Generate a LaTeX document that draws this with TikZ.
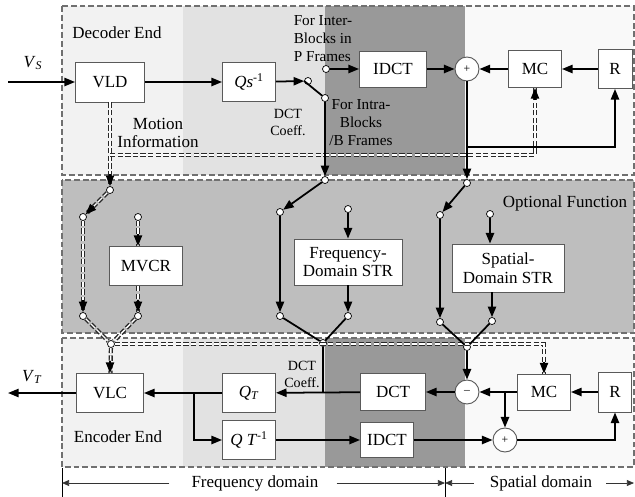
\documentclass[tikz,border=0pt]{standalone}
\usepackage{fontspec}
\setmainfont{Liberation Serif}
\usetikzlibrary{arrows.meta,calc}
\definecolor{bgpale}{RGB}{242,242,242}
\definecolor{bglight}{RGB}{226,226,226}
\definecolor{bgdark}{RGB}{153,153,153}
\definecolor{bgwhite}{RGB}{249,249,249}
\definecolor{bgmid}{RGB}{190,190,190}
\definecolor{rimgray}{RGB}{112,112,112}
\definecolor{boxgray}{RGB}{90,90,90}
\definecolor{mvgray}{RGB}{40,40,40}
\newcommand{\regionrow}[2]{%
  \fill[bgpale] (62,#1) rectangle (183,#2);
  \fill[bglight] (183,#1) rectangle (325,#2);
  \fill[bgdark] (325,#1) rectangle (465,#2);
  \fill[bgwhite] (465,#1) rectangle (634,#2);
  \draw[rim] (62,#1) rectangle (634,#2);
}

\begin{document}
\begin{tikzpicture}[x=.03cm,y=-.03cm,font=\fontsize{14.5}{16}\selectfont,
    rim/.style={draw=rimgray,line width=.9pt,dash pattern=on 5pt off 2.5pt},
    blk/.style 2 args={draw=boxgray,fill=white,line width=.8pt,minimum width=#1*.03cm,
      minimum height=#2*.03cm,inner sep=1pt,align=center},
    ctc/.style={circle,draw,fill=white,line width=.6pt,minimum size=7*.03cm,inner sep=0pt},
    sumc/.style={circle,draw=boxgray,fill=white,line width=.8pt,minimum size=24*.03cm,
      inner sep=0pt,font=\normalsize},
    wire/.style={line width=1.5pt},
    arr/.style={wire,-{Triangle[length=9pt,width=7pt]}},
    mv/.style={draw=mvgray,line width=3.6pt,dash pattern=on 4.5pt off 2pt,
      postaction={draw=white,line width=1.2pt}},
    mvtip/.style={line width=1pt,-{Triangle[length=9pt,width=7pt]}},
    dom/.style={line width=.6pt,black!80,-{Triangle[length=6pt,width=5pt]}},
    note/.style={font=\fontsize{13}{15.3}\selectfont,align=left},
    coef/.style={font=\fontsize{12}{14.5}\selectfont,align=center}]
  \useasboundingbox (0,0) rectangle (635,497);
  \regionrow{6}{175}
  \fill[bgmid] (62,180) rectangle (634,333);
  \draw[rim] (62,180) rectangle (634,333);
  \regionrow{338}{467}

  \node[blk={69}{40}] (vld) at (110,82) {VLD};
  \node[blk={53}{39}] (qs) at (249,82) {\textit{Qs}\textsuperscript{-1}};
  \node[ctc] (swo) at (308,81) {};
  \node[ctc] (swp) at (326,69) {};
  \node[ctc] (swi) at (325,98) {};
  \node[blk={67}{36}] (idcta) at (393,69) {IDCT};
  \node[sumc] (suma) at (467,69) {+};
  \node[blk={53}{37}] (mca) at (535,69) {MC};
  \node[blk={34}{39}] (ra) at (615,69) {R};

  \node[ctc] (m0) at (110,190) {};
  \node[ctc] (m1) at (83,217) {};
  \node[ctc] (m2) at (138,217) {};
  \node[blk={73}{39}] (mvcr) at (146,266) {MVCR};
  \node[ctc] (m3) at (83,316) {};
  \node[ctc] (m4) at (138,316) {};
  \node[ctc] (m5) at (111,344) {};

  \node[ctc] (f0) at (325,180) {};
  \node[ctc] (f1) at (280,212) {};
  \node[ctc] (f2) at (348,209) {};
  \node[blk={108}{46}] (fstr) at (348,262) {Frequency-\\Domain STR};
  \node[ctc] (f3) at (280,316) {};
  \node[ctc] (f4) at (348,316) {};
  \node[ctc] (f5) at (323,343) {};

  \node[ctc] (s0) at (467,183) {};
  \node[ctc] (s1) at (440,215) {};
  \node[ctc] (s2) at (490,214) {};
  \node[blk={112}{48}] (sstr) at (508,268) {Spatial-\\Domain STR};
  \node[ctc] (s3) at (440,322) {};
  \node[ctc] (s4) at (492,321) {};
  \node[ctc] (s5) at (467,347) {};

  \node[blk={67}{39}] (vlc) at (110,393) {VLC};
  \node[blk={53}{39}] (qt) at (249,393) {\textit{Q}\textsubscript{\textit{T}}};
  \node[blk={53}{39}] (qti) at (249,440) {\textit{Q T}\textsuperscript{-1}};
  \node[blk={65}{37}] (dctb) at (393,392) {DCT};
  \node[blk={53}{35}] (idctb) at (387,440) {IDCT};
  \node[sumc] (minus) at (467,392) {--};
  \node[sumc] (plusb) at (505,440) {+};
  \node[blk={53}{36}] (mcb) at (544,392) {MC};
  \node[blk={33}{40}] (rb) at (615,392) {R};

  \node (lvs) at (33,63) {\textit{V}\textsubscript{\textit{S}}};
  \node (ldec) at (117,33) {Decoder End};
  \node[align=center] (lmot) at (158,133) {Motion\\Information};
  \node[note] (linter) at (323,39) {For Inter-\\Blocks in\\P Frames};
  \node[note,align=center] (lintra) at (361,123) {For Intra-\\Blocks\\/B Frames};
  \node[coef] (lcoa) at (288,122) {DCT\\Coeff.};
  \node (lopt) at (565,203) {Optional Function};
  \node[coef] (lcob) at (302,374) {DCT\\Coeff.};
  \node (lvt) at (32,377) {\textit{V}\textsubscript{\textit{T}}};
  \node (lenc) at (118,437) {Encoder End};
  \node (lfd) at (255,483) {Frequency domain};
  \node (lsd) at (541,483) {Spatial domain};

  \coordinate (mvj) at (110,155);
  \coordinate (mvk) at (mvj -| mca);
  \coordinate (m2t) at (m2 |- mvcr.north);
  \coordinate (m4t) at (m4 |- mvcr.south);
  \coordinate (m5r) at (m5 -| mcb);
  \draw[mv] (vld) -- (m0);
  \draw[mv] (mvj) -- (mvk) -- (mca);
  \draw[mv] (m0) -- (m1);
  \draw[mv] (m1) -- (m3);
  \draw[mv] (m2) -- (m2t);
  \draw[mv] (m4t) -- (m4);
  \draw[mv] (m3) -- (m5);
  \draw[mv] (m4) -- (m5);
  \draw[mv] (m5) -- (vlc);
  \draw[mv] (m5) -- (m5r) -- (mcb);
  \draw[mvtip] ([yshift=10pt]m0.north) -- (m0.north);
  \draw[mvtip] ([yshift=-10pt]mca.south) -- (mca.south);
  \draw[mvtip] ($(m1)!13pt!(m0)$) -- (m1);
  \draw[mvtip] ([yshift=10pt]m3.north) -- (m3.north);
  \draw[mvtip] ([yshift=10pt]m2t) -- (m2t);
  \draw[mvtip] ([yshift=10pt]m4.north) -- (m4.north);
  \draw[mvtip] ([yshift=10pt]vlc.north) -- (vlc.north);
  \draw[mvtip] ([yshift=10pt]mcb.north) -- (mcb.north);

  \coordinate (vsin) at (8,82);
  \draw[arr] (vsin) -- (vld);
  \draw[arr] (vld) -- (qs);
  \draw[arr] (qs) -- (swo);
  \draw[wire] (swo.west) -- (swi);
  \draw[arr] (swp) -- (idcta);
  \draw[arr] (idcta) -- (suma);
  \draw[arr] (mca) -- (suma);
  \draw[arr] (ra) -- (mca);
  \draw[arr] (swi) -- (f0);
  \draw[arr] (suma) -- (s0);
  \coordinate (fba) at (467,147);
  \coordinate (fbb) at (615,147);
  \draw[arr] (fba) -- (fbb) -- (ra);

  \draw[arr] (f0) -- (f1);
  \draw[arr] (f1) -- (f3);
  \draw[arr] (f2) -- (fstr);
  \draw[arr] (fstr) -- (f4);
  \draw[wire] (f3) -- (f5) -- (f4);
  \coordinate (fj) at (323,392);
  \draw[wire] (f5) -- (fj);

  \draw[arr] (s0) -- (s1);
  \draw[arr] (s1) -- (s3);
  \draw[arr] (s2) -- (s2 |- sstr.north);
  \draw[arr] (s4 |- sstr.south) -- (s4);
  \draw[wire] (s3) -- (s5) -- (s4);
  \draw[arr] (s5) -- (minus);

  \coordinate (vtout) at (8,393);
  \coordinate (qb) at (194,393);
  \coordinate (mb) at (505,392);
  \draw[arr] (vlc) -- (vtout);
  \draw[arr] (dctb) -- (qt);
  \draw[arr] (qt) -- (vlc);
  \draw[arr] (qb) |- (qti);
  \draw[arr] (qti) -- (idctb);
  \draw[arr] (idctb) -- (plusb);
  \draw[arr] (plusb) -| (rb);
  \draw[arr] (rb) -- (mcb);
  \draw[arr] (mcb) -- (minus);
  \draw[arr] (mb) -- (plusb);
  \draw[arr] (minus) -- (dctb);

  \coordinate (tl) at (62,483);
  \coordinate (tm) at (445,483);
  \coordinate (tr) at (634,483);
  \draw[line width=.6pt] (62,468) -- (62,497);
  \draw[line width=.6pt] (445,468) -- (445,497);
  \draw[dom] ($(lfd.west)+(-18,0)$) -- (tl);
  \draw[dom] ($(lfd.east)+(14,0)$) -- (tm);
  \draw[dom] ($(lsd.west)+(-12,0)$) -- (tm);
  \draw[dom] ($(lsd.east)+(10,0)$) -- (tr);
\end{tikzpicture}
\end{document}
